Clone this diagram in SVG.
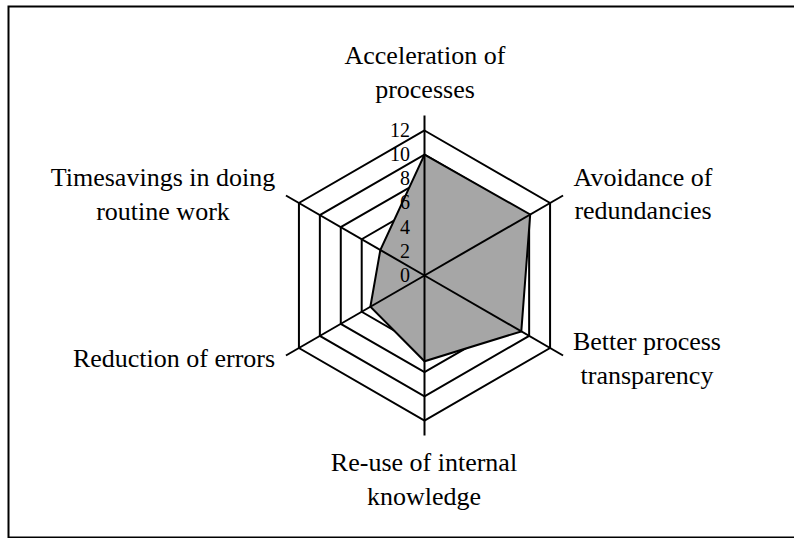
<svg xmlns="http://www.w3.org/2000/svg" width="794" height="538" viewBox="0 0 794 538">
<style>
.lbl{font-family:"Liberation Serif","Times New Roman",serif;font-size:26px;fill:#000;text-anchor:middle}
.tick{font-family:"Liberation Serif","Times New Roman",serif;font-size:20px;fill:#000;text-anchor:end}
.ring{fill:none;stroke:#000;stroke-width:2}
.axis{stroke:#000;stroke-width:2}
</style>
<rect x="0" y="0" width="794" height="538" fill="#fff"/>
<rect x="8.5" y="6.5" width="800" height="531" fill="none" stroke="#000" stroke-width="2"/>
<g id="grid">
<polygon class="ring" points="424.5,130.5 550.07,203 550.07,348 424.5,420.5 298.93,348 298.93,203"/>
<polygon class="ring" points="424.5,154.67 529.14,215.08 529.14,335.92 424.5,396.33 319.86,335.92 319.86,215.08"/>
<polygon class="ring" points="424.5,178.83 508.22,227.17 508.22,323.83 424.5,372.17 340.78,323.83 340.78,227.17"/>
<polygon class="ring" points="424.5,203 487.29,239.25 487.29,311.75 424.5,348 361.71,311.75 361.71,239.25"/>
<polygon class="ring" points="424.5,227.17 466.36,251.33 466.36,299.67 424.5,323.83 382.64,299.67 382.64,251.33"/>
<polygon class="ring" points="424.5,251.33 445.43,263.42 445.43,287.58 424.5,299.67 403.57,287.58 403.57,263.42"/>
</g>
<g id="data">
<polygon points="424.5,154.67 530.19,214.48 521.3,331.38 424.5,361.29 370.37,306.75 380.33,250" fill="#a6a6a6" stroke="none"/>
</g>
<g id="connectors">
<line class="axis" x1="424.5" y1="275.5" x2="424.5" y2="115.5"/>
<line class="axis" x1="424.5" y1="275.5" x2="563.06" y2="195.5"/>
<line class="axis" x1="424.5" y1="275.5" x2="563.06" y2="355.5"/>
<line class="axis" x1="424.5" y1="275.5" x2="424.5" y2="435.5"/>
<line class="axis" x1="424.5" y1="275.5" x2="285.94" y2="355.5"/>
<line class="axis" x1="424.5" y1="275.5" x2="285.94" y2="195.5"/>
</g>
<g id="data-outline">
<polygon points="424.5,154.67 530.19,214.48 521.3,331.38 424.5,361.29 370.37,306.75 380.33,250" fill="none" stroke="#000" stroke-width="2" stroke-linejoin="miter"/>
</g>
<g id="ticks">
<text class="tick" x="410" y="137">12</text>
<text class="tick" x="410" y="161">10</text>
<text class="tick" x="410" y="185">8</text>
<text class="tick" x="410" y="209">6</text>
<text class="tick" x="410" y="234">4</text>
<text class="tick" x="410" y="258">2</text>
<text class="tick" x="410" y="282">0</text>
</g>
<g id="label-acceleration">
<text class="lbl" x="425" y="64">Acceleration of</text>
<text class="lbl" x="425" y="98">processes</text>
</g>
<g id="label-avoidance">
<text class="lbl" x="643" y="186">Avoidance of</text>
<text class="lbl" x="643" y="219">redundancies</text>
</g>
<g id="label-transparency">
<text class="lbl" x="647" y="350">Better process</text>
<text class="lbl" x="647" y="384">transparency</text>
</g>
<g id="label-reuse">
<text class="lbl" x="424" y="471">Re-use of internal</text>
<text class="lbl" x="424" y="505">knowledge</text>
</g>
<g id="label-errors">
<text class="lbl" x="174" y="367">Reduction of errors</text>
</g>
<g id="label-timesavings">
<text class="lbl" x="163" y="186">Timesavings in doing</text>
<text class="lbl" x="163" y="220">routine work</text>
</g>
</svg>
